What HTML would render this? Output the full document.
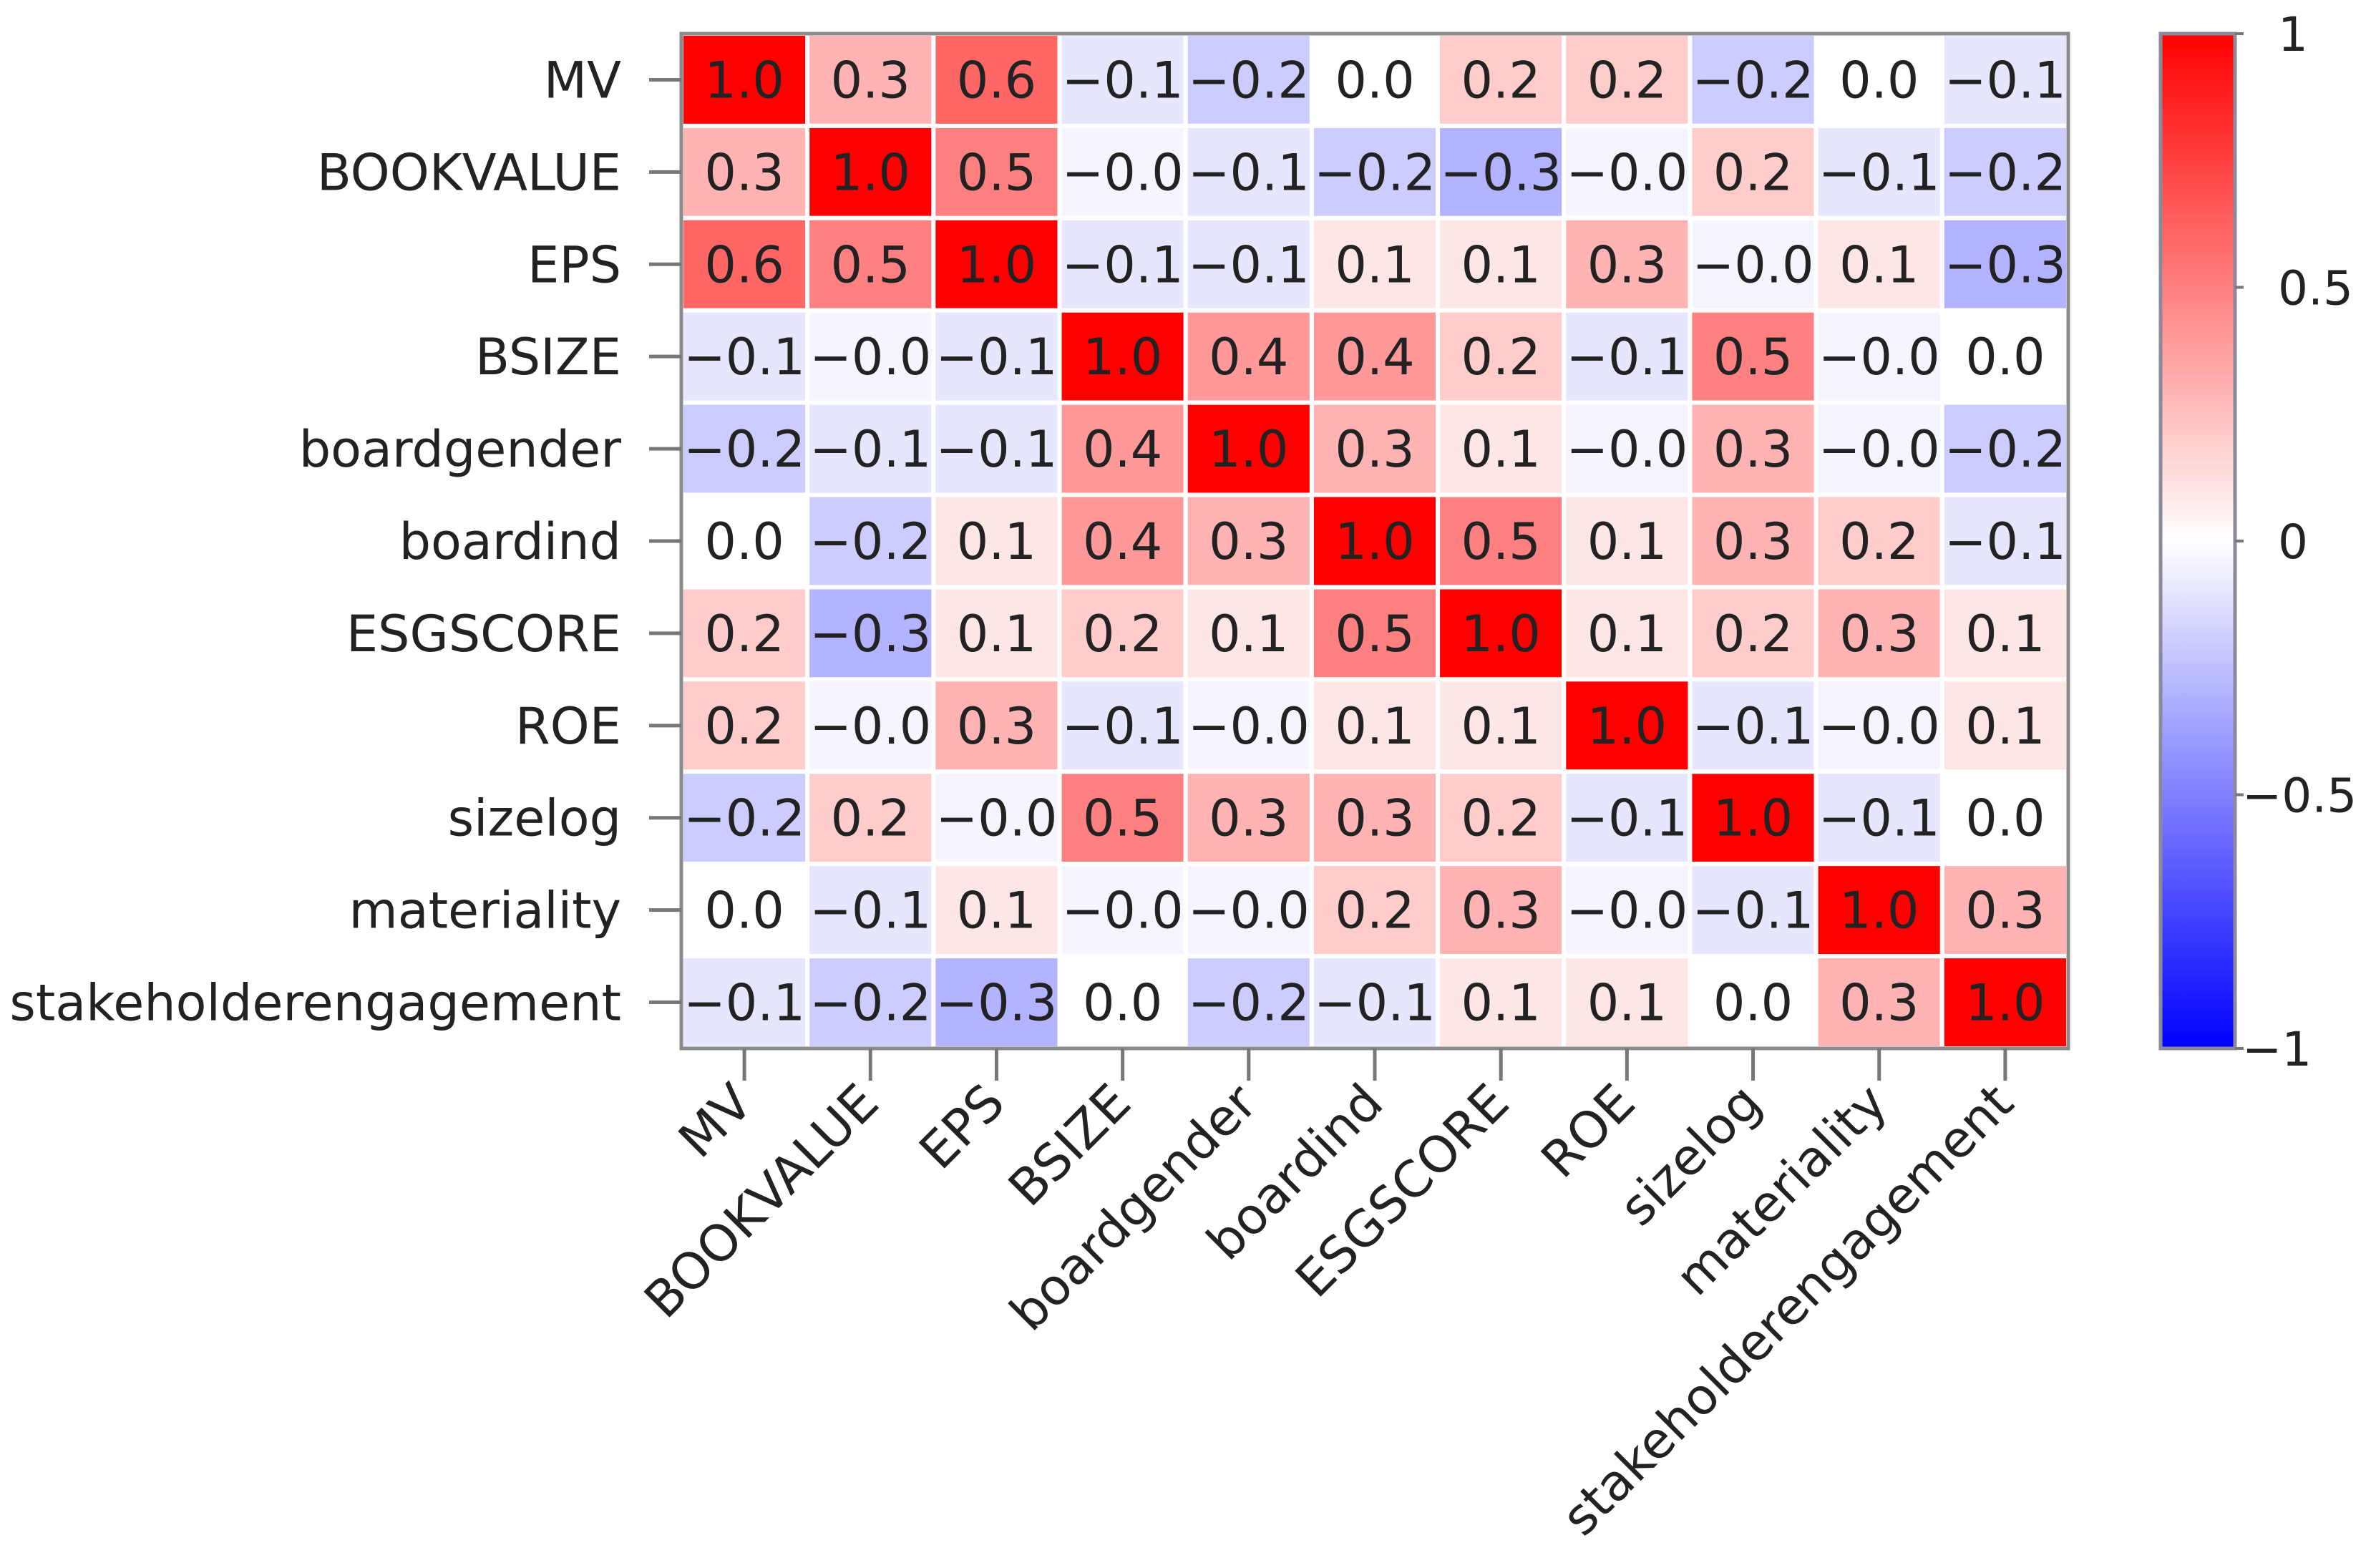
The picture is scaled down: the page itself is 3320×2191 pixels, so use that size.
<!DOCTYPE html>
<html><head><meta charset="utf-8"><style>
html,body{margin:0;padding:0;background:#fff;}
svg text{font-family:"DejaVu Sans","Liberation Sans",sans-serif;}
</style></head><body>
<svg id="chart" width="3320" height="2186" viewBox="0 0 3320 2186" xmlns="http://www.w3.org/2000/svg">
<defs>
<linearGradient id="bwr" x1="0" y1="1" x2="0" y2="0">
<stop offset="0" stop-color="#0000ff"/><stop offset="0.5" stop-color="#ffffff"/><stop offset="1" stop-color="#ff0000"/>
</linearGradient>
</defs>
<g id="cells"></g>
<g id="ylabels"></g>
<g id="xlabels"></g>
<g id="cbar"></g>
</svg>
<script>
const labels = ["MV","BOOKVALUE","EPS","BSIZE","boardgender","boardind","ESGSCORE","ROE","sizelog","materiality","stakeholderengagement"];
const rowMV = [1.0,0.3,0.6,-0.1,-0.2,0.0,0.2,0.2,-0.2,0.0,-0.1];
const rowBOOKVALUE = [0.3,1.0,0.5,-0.04,-0.1,-0.2,-0.3,-0.04,0.2,-0.1,-0.2];
const rowEPS = [0.6,0.5,1.0,-0.1,-0.1,0.1,0.1,0.3,-0.04,0.1,-0.3];
const rowBSIZE = [-0.1,-0.04,-0.1,1.0,0.4,0.4,0.2,-0.1,0.5,-0.04,0.0];
const rowBoardgender = [-0.2,-0.1,-0.1,0.4,1.0,0.3,0.1,-0.04,0.3,-0.04,-0.2];
const rowBoardind = [0.0,-0.2,0.1,0.4,0.3,1.0,0.5,0.1,0.3,0.2,-0.1];
const rowESGSCORE = [0.2,-0.3,0.1,0.2,0.1,0.5,1.0,0.1,0.2,0.3,0.1];
const rowROE = [0.2,-0.04,0.3,-0.1,-0.04,0.1,0.1,1.0,-0.1,-0.04,0.1];
const rowSizelog = [-0.2,0.2,-0.04,0.5,0.3,0.3,0.2,-0.1,1.0,-0.1,0.0];
const rowMateriality = [0.0,-0.1,0.1,-0.04,-0.04,0.2,0.3,-0.04,-0.1,1.0,0.3];
const rowStakeholder = [-0.1,-0.2,-0.3,0.0,-0.2,-0.1,0.1,0.1,0.0,0.3,1.0];
const matrix = [rowMV,rowBOOKVALUE,rowEPS,rowBSIZE,rowBoardgender,rowBoardind,rowESGSCORE,rowROE,rowSizelog,rowMateriality,rowStakeholder];
const cbarTicks = [1,0.5,0,-0.5,-1];
const cbarTickLabels = ["1","0.5","0","\u22120.5","\u22121"];

const NS="http://www.w3.org/2000/svg";
const L=952,T=47,R=2890,B=1465;
const n=labels.length, cw=(R-L)/n, ch=(B-T)/n;
const xPos=i=>L+i*cw, yPos=j=>T+j*ch;
const cbX=3019, cbW=104, cbT=47, cbB=1465;
const cbY=v=>cbB-(v+1)/2*(cbB-cbT);
function mk(tag,attrs,parent){const e=document.createElementNS(NS,tag);for(const k in attrs)e.setAttribute(k,attrs[k]);parent.appendChild(e);return e;}
function color(v){v=Math.max(-1,Math.min(1,v));
 if(v>=0){const c=Math.round(255*(1-v));return `rgb(255,${c},${c})`;}
 const c=Math.round(255*(1+v));return `rgb(${c},${c},255)`;}
const cells=document.getElementById('cells');
for(let j=0;j<n;j++)for(let i=0;i<n;i++){
 const v=matrix[j][i];
 const r=mk('rect',{x:xPos(i),y:yPos(j),width:cw,height:ch,fill:color(v),stroke:'#ffffff','stroke-width':6},cells);
 
 
 const t=mk('text',{x:xPos(i)+cw/2,y:yPos(j)+ch/2+25,'text-anchor':'middle','font-size':70,fill:'#222'},cells);
 
 
 t.textContent=v.toFixed(1).replace('-','\u2212');
}
const fr=mk('rect',{x:L,y:T,width:R-L,height:B-T,fill:'none',stroke:'#8a8a8a','stroke-width':5},cells);


const yl=document.getElementById('ylabels');
labels.forEach((lab,j)=>{
 const cy=yPos(j)+ch/2;
 const tk=mk('line',{x1:L-45,x2:L,y1:cy,y2:cy,stroke:'#777','stroke-width':5},yl);
 
 
 const t=mk('text',{x:868,y:cy+25,'text-anchor':'end','font-size':70,fill:'#222'},yl);
 
 
 t.textContent=lab;
});
const xl=document.getElementById('xlabels');
labels.forEach((lab,i)=>{
 const cx=xPos(i)+cw/2;
 const tk=mk('line',{x1:cx,x2:cx,y1:B,y2:B+45,stroke:'#777','stroke-width':5},xl);
 
 
 const t=mk('text',{x:cx+15,y:B+80,'text-anchor':'end','font-size':70,fill:'#222',transform:`rotate(-45 ${cx+15} ${B+80})`},xl);
 
 
 t.textContent=lab;
});
const cb=document.getElementById('cbar');
const cr=mk('rect',{x:cbX,y:cbT,width:cbW,height:cbB-cbT,fill:'url(#bwr)',stroke:'#8a8a9a','stroke-width':5},cb);


cbarTicks.forEach((v,k)=>{
 const y=cbY(v);
 const tk=mk('line',{x1:cbX+cbW,x2:cbX+cbW+12,y1:y,y2:y,stroke:'#777','stroke-width':4},cb);
 
 
 const lx=v<0?cbX+cbW+10:cbX+cbW+60;
 const t=mk('text',{x:lx,y:y+24,'font-size':66,fill:'#222'},cb);
 
 
 t.textContent=cbarTickLabels[k];
});
</script>
</body></html>
